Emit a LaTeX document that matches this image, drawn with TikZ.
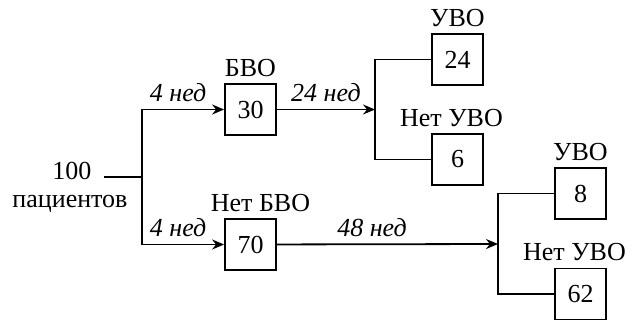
\documentclass[tikz,border=0pt]{standalone}
\usepackage{fontspec}
\setmainfont{Liberation Serif}
\usetikzlibrary{arrows.meta}

\tikzset{
  box/.style={draw, line width=0.9pt, minimum size=25.5pt, inner sep=0pt},
  lbl/.style={inner sep=3pt},
  wk/.style={font=\itshape\fontsize{13}{15}\selectfont},
  arr/.style={line width=0.9pt, -{Stealth[length=6pt,width=5pt,inset=2pt]}},
  ln/.style={line width=0.9pt}
}

\begin{document}
\begin{tikzpicture}[x=0.5pt,y=-0.5pt,font=\fontsize{13}{15}\selectfont]
\useasboundingbox (0,0) rectangle (633,322);

% start
\node[lbl] (n100) at (72,171) {100};
\node[lbl] (npac) at (70,204) {пациентов};
\coordinate (sp) at (142,177);

% boxes
\node[box] (b30) at (250.5,109.5) {30};
\node[box] (b70) at (250.5,244.5) {70};
\node[box] (b24) at (457.5,59.5) {24};
\node[box] (b6) at (457.5,159.5) {6};
\node[box] (b8) at (580.5,193.5) {8};
\node[box] (b62) at (580.5,294) {62};

\node[lbl, above] at (b30.north) {БВО};
\node[lbl, above, xshift=5pt] at (b70.north) {Нет БВО};
\node[lbl, above] at (b24.north) {УВО};
\node[lbl, above, xshift=-3pt] at (b6.north) {Нет УВО};
\node[lbl, above] at (b8.north) {УВО};
\node[lbl, above, xshift=-3pt] at (b62.north) {Нет УВО};

% forks
\coordinate (j1) at (375,109.5);
\coordinate (j2) at (498,244);

\draw[ln] ([xshift=3pt]n100.east |- sp) -- (sp);
\draw[arr] (sp) |- node[pos=.72, above, wk] {4 нед} (b30);
\draw[arr] (sp) |- node[pos=.72, above, wk] {4 нед} (b70);
\draw[arr] (b30) -- node[above, wk] {24 нед} (j1);
\draw[arr] (b70) -- node[pos=.43, above, wk] {48 нед} (j2);

\draw[ln] (b24) -| (j1) |- (b6);
\draw[ln] (b8) -| (j2) |- (b62);
\end{tikzpicture}
\end{document}
